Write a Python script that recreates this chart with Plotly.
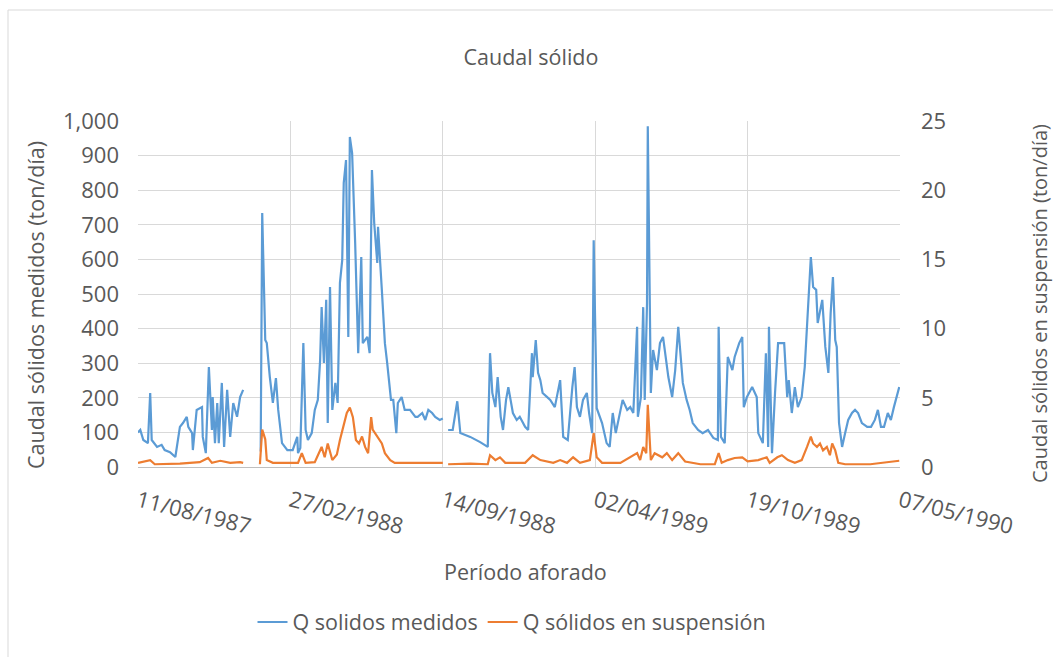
import pandas as pd
import plotly.graph_objects as go

# Aforo diario de caudal sólido, días contados desde el inicio del periodo
start_date = "1987-08-11"
tick_labels = ["11/08/1987", "27/02/1988", "14/09/1988",
               "02/04/1989", "19/10/1989", "07/05/1990"]

# Q sólidos medidos (ton/día); None marca días sin aforo
medidos_dias = [
    0, 3, 7, 13, 16, 18, 25, 31, 35, 42, 49, 51, 55, 59, 64, 66, 71, 72, 77, 84,
    85, 89, 93, 97, 98, 101, 104, 106, 110, 113, 117, 121, 125, 130, 134, 138,
    150,
    161, 163, 167, 169, 173, 177, 181, 184, 189, 196, 203, 209, 210, 213, 217,
    220, 223, 228, 232, 236, 239, 241, 244, 247, 249, 252, 255, 259, 262, 265,
    268, 270, 273, 276, 278, 281, 285, 289, 293, 295, 301, 304, 307, 310, 314,
    315, 320, 324, 327, 332, 335, 339, 341, 346, 350, 357, 364, 367, 373, 377,
    381, 386, 390, 396, 400,
    403,
    407, 413, 419, 423, 436, 449, 459, 462, 465, 469, 472, 476, 479, 483, 486,
    490, 492, 497, 501, 508, 512, 517, 518, 522, 525, 528, 531, 537, 541, 547,
    554, 558, 564, 570, 573, 576, 580, 584, 589, 592, 596, 598, 602, 609, 615,
    619, 623, 627, 633, 636, 642, 646, 650, 655, 656, 660, 663, 665, 668, 669,
    673, 676, 681, 685, 689, 693, 696, 701, 705, 709, 713, 715, 720, 724, 728,
    735, 741, 748, 755, 761, 762, 765, 770, 774, 780, 783, 789, 793, 795, 799,
    806, 812, 814, 820, 824, 827, 828, 832, 836, 840, 845, 848, 852, 854, 858,
    862, 866, 871, 875, 879, 883, 886, 890, 892, 898, 902, 906, 909, 912, 915,
    917, 920, 924, 928, 932, 937, 941, 945, 950, 957, 962, 967, 971, 975, 979,
    984, 988, 992, 997, 999,
]
medidos_ton = [
    100, 107, 78, 69, 214, 78, 58, 64, 49, 43, 29, 55, 116, 127, 145, 116, 98, 49, 165, 173,
    87, 40, 289, 107, 202, 69, 185, 69, 243, 58, 223, 87, 185, 145, 202, 223,
    None,
    45, 734, 367, 358, 260, 185, 257, 165, 69, 49, 49, 87, 40, 55, 358,
    107, 78, 98, 165, 194, 309, 462, 301, 483, 127, 520, 165, 243, 185, 532,
    598, 821, 887, 376, 954, 907, 647, 329, 607, 358, 376, 329, 858, 705, 590,
    694, 512, 358, 301, 194, 194, 98, 185, 202, 165, 165, 145, 145, 156, 136,
    165, 156, 145, 136, 140,
    None,
    107, 107, 190, 98, 87, 72, 58, 329, 214, 173, 260, 145, 107, 194, 231,
    185, 156, 136, 145, 116, 107, 329, 260, 367, 272, 251, 214, 202, 194, 173,
    251, 87, 78, 231, 289, 173, 145, 194, 214, 156, 98, 655, 170, 127, 69,
    58, 156, 98, 165, 194, 165, 173, 156, 405, 145, 202, 462, 194, 474, 985,
    214, 338, 280, 358, 376, 301, 260, 202, 280, 405, 309, 243, 194, 165, 127,
    107, 98, 107, 84, 78, 405, 87, 69, 318, 280, 318, 358, 376, 173, 202,
    231, 202, 98, 69, 329, 58, 405, 40, 214, 358, 358, 358, 202, 251, 156,
    231, 173, 202, 289, 445, 607, 520, 512, 416, 483, 347, 272, 445, 549, 367,
    347, 127, 58, 98, 136, 156, 165, 156, 127, 116, 116, 136, 165, 116, 116,
    156, 136, 173, 214, 231,
]

# Q sólidos en suspensión (ton/día)
susp_dias = [
    0, 16, 22, 55, 81, 88, 92, 97, 108, 121, 134, 138,
    150,
    160, 163, 167, 169, 177, 199, 210, 215, 220, 232, 241, 245, 249, 255, 261,
    265, 269, 274, 278, 282, 286, 290, 294, 298, 302, 306, 308, 314, 320, 324,
    331, 337, 370, 400,
    403,
    407, 436, 459, 462, 469, 475, 482, 508, 518, 528, 545, 554, 563, 571, 580,
    593, 598, 602, 609, 633, 655, 659, 663, 667, 669, 673, 678, 688, 694, 701,
    709, 718, 738, 757, 762, 766, 774, 783, 793, 800, 814, 825, 829, 839, 845,
    853, 862, 871, 878, 883, 886, 891, 895, 899, 904, 908, 911, 915, 919, 928,
    961, 999,
]
susp_ton = [
    0.3, 0.5, 0.2, 0.25, 0.35, 0.55, 0.65, 0.3, 0.45, 0.3, 0.35, 0.3,
    None,
    0.2, 2.7, 2.0, 0.5, 0.3, 0.3, 0.3, 1.0, 0.3, 0.35, 1.45, 0.7, 1.7, 0.5, 0.9,
    1.95, 2.9, 3.9, 4.3, 3.6, 1.95, 1.7, 2.2, 1.45, 1.0, 3.6, 2.7, 2.2, 1.7, 1.0,
    0.5, 0.3, 0.3, 0.3,
    None,
    0.2, 0.25, 0.2, 0.85, 0.5, 0.7, 0.3, 0.3, 0.85, 0.5, 0.3, 0.5, 0.3, 0.7, 0.3,
    0.5, 2.45, 0.7, 0.3, 0.3, 1.0, 0.5, 1.45, 1.0, 4.5, 0.5, 1.0, 0.7, 1.0, 0.5,
    1.0, 0.4, 0.2, 0.2, 1.0, 0.3, 0.5, 0.65, 0.7, 0.4, 0.5, 0.7, 0.3, 0.7, 0.85,
    0.5, 0.3, 0.5, 1.45, 2.2, 1.7, 1.45, 1.7, 1.2, 1.45, 0.85, 1.7, 1.2, 0.3, 0.2,
    0.2, 0.45,
]

t0 = pd.Timestamp(start_date)
to_dates = lambda days: [t0 + pd.Timedelta(days=d) for d in days]
tick_dates = pd.to_datetime(tick_labels, format="%d/%m/%Y")

GRAY_TEXT = "#595959"
GRID = "#D9D9D9"
FONT = "Open Sans"
TXT = 21.5
TICK = 22

fig = go.Figure()
fig.add_trace(go.Scatter(
    x=to_dates(medidos_dias), y=medidos_ton, mode="lines",
    name="Q solidos medidos", line=dict(color="#5B9BD5", width=2.2),
    connectgaps=False,
))
fig.add_trace(go.Scatter(
    x=to_dates(susp_dias), y=susp_ton, mode="lines", yaxis="y2",
    name="Q sólidos en suspensión", line=dict(color="#ED7D31", width=2.2),
    connectgaps=False,
))

# plot area spans pixels x 138..900, y 121..467
L, R, T, B = 138, 900, 121, 467
W, H = 1053, 657
pw, ph = R - L, B - T
px = lambda x: (x - L) / pw
py = lambda y: (B - y) / ph

label = lambda text, x, y, angle=0, size=TXT: dict(
    text=text, textangle=angle, x=px(x), y=py(y), xref="paper", yref="paper",
    xanchor="center", yanchor="middle", showarrow=False,
    font=dict(size=size, color=GRAY_TEXT))

fig.update_layout(
    width=W, height=H,
    margin=dict(l=L, r=W - R, t=T, b=H - B, autoexpand=False),
    paper_bgcolor="white", plot_bgcolor="white",
    font=dict(family=FONT, size=TXT, color=GRAY_TEXT),
    title=dict(text="Caudal sólido", x=531 / W, xanchor="center",
               y=1 - 57 / H, yanchor="middle", yref="container",
               font=dict(size=TXT, color=GRAY_TEXT)),
    xaxis=dict(
        type="date", range=[tick_dates[0], tick_dates[-1]],
        tickvals=tick_dates, ticktext=tick_labels, tickangle=14,
        showgrid=True, gridcolor=GRID, gridwidth=1,
        showline=True, linecolor="#BFBFBF", ticks="", ticklabelstandoff=12,
        tickfont=dict(size=TICK, color=GRAY_TEXT), zeroline=False,
    ),
    yaxis=dict(
        range=[0, 1000], dtick=100, tickformat=",",
        showgrid=True, gridcolor=GRID, gridwidth=1, zeroline=False,
        showline=False, ticks="", ticklabelstandoff=18,
        tickfont=dict(size=TICK, color=GRAY_TEXT),
    ),
    yaxis2=dict(
        range=[0, 25], dtick=5, overlaying="y", side="right",
        showgrid=False, zeroline=False, showline=False, ticks="",
        ticklabelstandoff=20, tickfont=dict(size=TICK, color=GRAY_TEXT),
    ),
    legend=dict(orientation="h", x=px(512), xanchor="center",
                y=py(622), yanchor="middle", itemwidth=30,
                font=dict(size=TXT, color=GRAY_TEXT), bgcolor="rgba(0,0,0,0)"),
    showlegend=True,
    annotations=[
        label("Caudal sólidos medidos (ton/día)", 35, 305, -90),
        label("Caudal sólidos en suspensión (ton/día)", 1039, 304, -90, 20),
        label("Período aforado", 525, 571),
    ],
    shapes=[
        # chart area frame
        dict(type="rect", xref="paper", yref="paper",
             x0=px(8), x1=px(1070), y0=py(680), y1=py(10),
             line=dict(color="#D9D9D9", width=1), layer="below"),
    ],
)

fig.write_html("out.html")
